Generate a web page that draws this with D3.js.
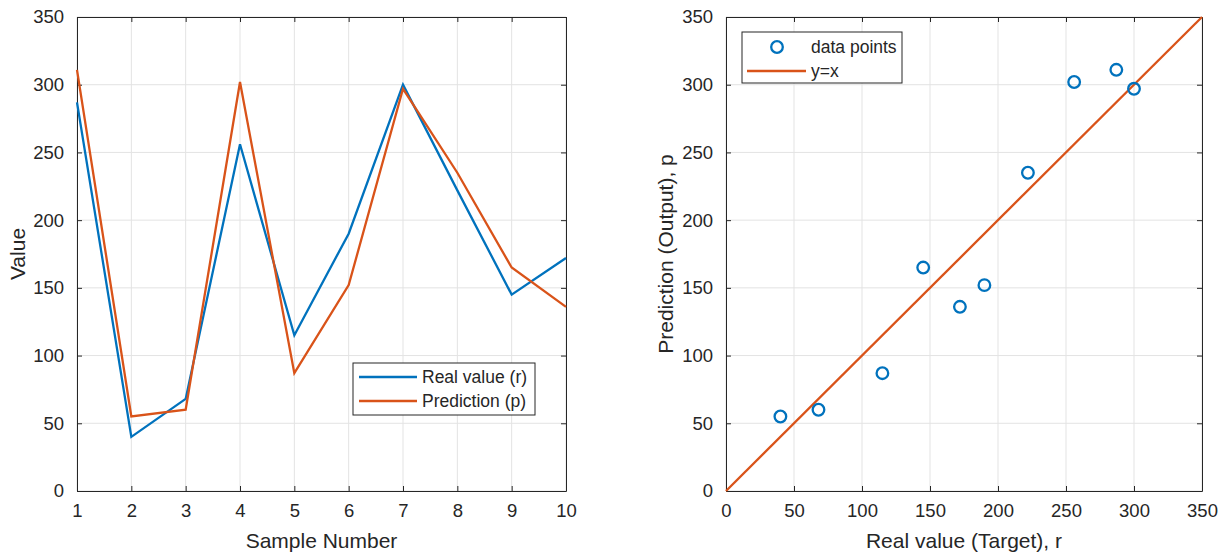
<!DOCTYPE html>
<html>
<head>
<meta charset="utf-8">
<script src="https://cdn.jsdelivr.net/npm/d3@7"></script>
<style>
  body { margin: 0; background: #fff; }
  svg text { font-family: "Liberation Sans", Arial, sans-serif; fill: #262626; }
</style>
</head>
<body>
<div id="container"></div>
<script>
/* DATA */
const samples = [1, 2, 3, 4, 5, 6, 7, 8, 9, 10];
const realValues = [287, 40, 68, 256, 115, 190, 300, 222, 145, 172];
const predictions = [311, 55, 60, 302, 87, 152, 297, 235, 165, 136];
const valueTicks = [0, 50, 100, 150, 200, 250, 300, 350];

/* CONSTANTS */
const width = 1227, height = 554;
const blue = "#0072BD", orange = "#D95319", ink = "#262626";
const left = {x0: 77, x1: 566, y0: 491, y1: 17};
const right = {x0: 726, x1: 1202, y0: 491, y1: 17};

const svg = d3.select("#container").append("svg")
    .attr("width", width)
    .attr("height", height);

// draws grid, box, inward ticks on all sides and tick labels
function drawFrame(box, xScale, yScale, xTicks, yTicks) {
  const g = svg.append("g");
  g.selectAll(".gx").data(xTicks).join("line")
      .attr("x1", d => xScale(d)).attr("x2", d => xScale(d))
      .attr("y1", box.y0).attr("y2", box.y1)
      .attr("stroke", "#e3e3e3").attr("stroke-width", 1);
  g.selectAll(".gy").data(yTicks).join("line")
      .attr("y1", d => yScale(d)).attr("y2", d => yScale(d))
      .attr("x1", box.x0).attr("x2", box.x1)
      .attr("stroke", "#e3e3e3").attr("stroke-width", 1);

  const fmt = d3.format("d");
  const axes = [
    [d3.axisBottom(xScale), `translate(0,${box.y0})`, xTicks, true],
    [d3.axisTop(xScale), `translate(0,${box.y1})`, xTicks, false],
    [d3.axisLeft(yScale), `translate(${box.x0},0)`, yTicks, true],
    [d3.axisRight(yScale), `translate(${box.x1},0)`, yTicks, false]
  ];
  axes.forEach(([axis, tr, ticks, labels]) => {
    const a = g.append("g")
        .attr("transform", tr)
        .call(axis.tickValues(ticks).tickSizeInner(-5).tickSizeOuter(0)
          .tickPadding(labels ? 13 : 0).tickFormat(labels ? fmt : ""));
    a.select(".domain").attr("stroke", ink);
    a.selectAll(".tick line").attr("stroke", ink);
    a.selectAll(".tick text").style("font-size", "18.5px").attr("fill", ink);
  });
  return g;
}

/* LEFT PANEL */
const xL = d3.scaleLinear().domain([1, 10]).range([left.x0, left.x1]);
const yL = d3.scaleLinear().domain([0, 350]).range([left.y0, left.y1]);
drawFrame(left, xL, yL, samples, valueTicks);

const lineL = (vals) => d3.line()
    .x((d, i) => xL(samples[i]))
    .y(d => yL(d))(vals);

svg.append("path").attr("d", lineL(realValues))
    .attr("fill", "none").attr("stroke", blue).attr("stroke-width", 2.3);
svg.append("path").attr("d", lineL(predictions))
    .attr("fill", "none").attr("stroke", orange).attr("stroke-width", 2.3);

svg.append("text")
    .attr("x", (left.x0 + left.x1) / 2).attr("y", 548)
    .attr("text-anchor", "middle").style("font-size", "21px")
    .text("Sample Number");
svg.append("text")
    .attr("transform", `translate(25,${(left.y0 + left.y1) / 2})rotate(-90)`)
    .attr("text-anchor", "middle").style("font-size", "21px")
    .text("Value");

// left legend
const legL = svg.append("g");
legL.append("rect")
    .attr("x", 353).attr("y", 363).attr("width", 182).attr("height", 52)
    .attr("fill", "#fff").attr("stroke", ink).attr("stroke-width", 1);
[["Real value (r)", blue, 377], ["Prediction (p)", orange, 401]].forEach(([label, c, y]) => {
  legL.append("line").attr("x1", 359).attr("x2", 417).attr("y1", y).attr("y2", y)
      .attr("stroke", c).attr("stroke-width", 2.3);
  legL.append("text").attr("x", 422).attr("y", y).attr("dy", "0.35em")
      .style("font-size", "17.5px").text(label);
});

/* RIGHT PANEL */
const xR = d3.scaleLinear().domain([0, 350]).range([right.x0, right.x1]);
const yR = d3.scaleLinear().domain([0, 350]).range([right.y0, right.y1]);
drawFrame(right, xR, yR, valueTicks, valueTicks);

svg.append("line")
    .attr("x1", xR(0)).attr("y1", yR(0)).attr("x2", xR(350)).attr("y2", yR(350))
    .attr("stroke", orange).attr("stroke-width", 2.3);

svg.selectAll(".pt")
    .data(realValues.map((r, i) => ({r: r, p: predictions[i]})))
    .join("circle")
    .attr("cx", d => xR(d.r)).attr("cy", d => yR(d.p))
    .attr("r", 5.8)
    .attr("fill", "none").attr("stroke", blue).attr("stroke-width", 2.3);

svg.append("text")
    .attr("x", (right.x0 + right.x1) / 2).attr("y", 548)
    .attr("text-anchor", "middle").style("font-size", "21px")
    .text("Real value (Target), r");
svg.append("text")
    .attr("transform", `translate(673,${(right.y0 + right.y1) / 2})rotate(-90)`)
    .attr("text-anchor", "middle").style("font-size", "21px")
    .text("Prediction (Output), p");

// right legend
const legR = svg.append("g");
legR.append("rect")
    .attr("x", 742).attr("y", 32).attr("width", 160).attr("height", 51)
    .attr("fill", "#fff").attr("stroke", ink).attr("stroke-width", 1);
legR.append("circle").attr("cx", 777).attr("cy", 47).attr("r", 5.8)
    .attr("fill", "none").attr("stroke", blue).attr("stroke-width", 2.3);
legR.append("text").attr("x", 811).attr("y", 47).attr("dy", "0.35em")
    .style("font-size", "17.5px").text("data points");
legR.append("line").attr("x1", 747).attr("x2", 806).attr("y1", 71).attr("y2", 71)
    .attr("stroke", orange).attr("stroke-width", 2.3);
legR.append("text").attr("x", 811).attr("y", 71).attr("dy", "0.35em")
    .style("font-size", "17.5px").text("y=x");
</script>
</body>
</html>
